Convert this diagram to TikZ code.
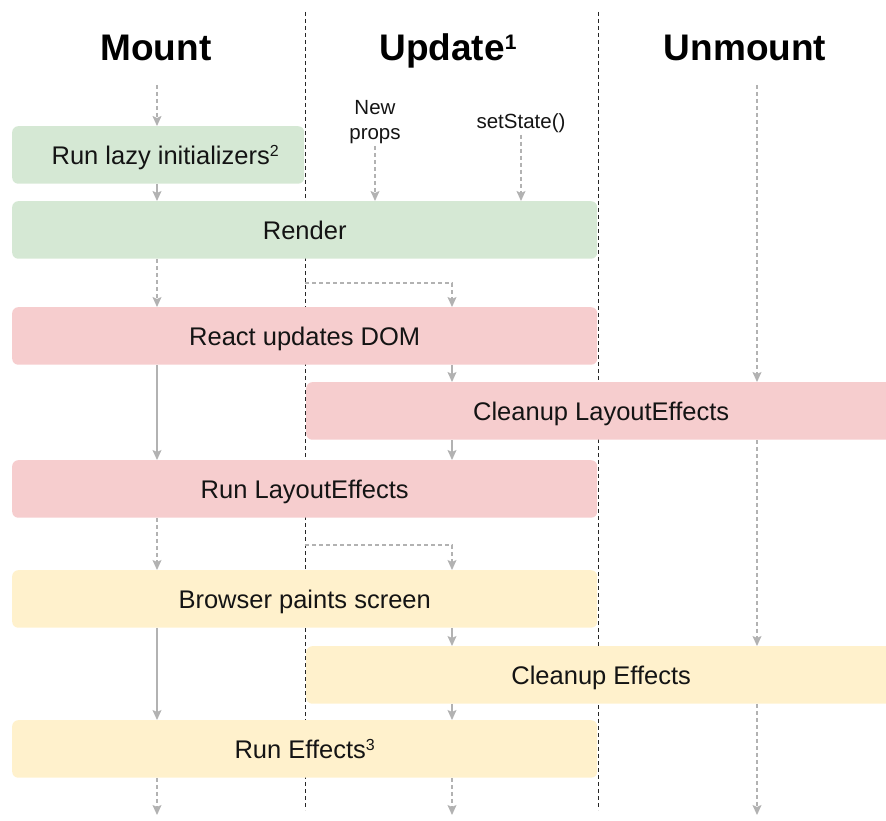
\documentclass[tikz,border=0pt]{standalone}
\usepackage{fontspec}
\setmainfont{Liberation Sans}
\usetikzlibrary{arrows.meta}
\definecolor{gfill}{RGB}{213,232,212}
\definecolor{pfill}{RGB}{246,205,206}
\definecolor{yfill}{RGB}{255,241,204}
\definecolor{arr}{RGB}{178,178,178}
\newcommand\bodysup[1]{\raisebox{8pt}{\fontsize{16pt}{16pt}\selectfont #1}}
\newcommand\headsup[1]{\raisebox{11.5pt}{\fontsize{21pt}{21pt}\selectfont #1}}
\begin{document}
\begin{tikzpicture}[x=1pt,y=-1pt,
  box/.style={anchor=north west, inner sep=0pt, minimum height=57.5pt,
    text height=18.5pt, text depth=0pt,
    rounded corners=6pt, font=\fontsize{25.5pt}{30pt}\selectfont, text=black!92},
  head/.style={anchor=base, inner sep=0pt, font=\fontsize{37pt}{42pt}\selectfont\bfseries, text=black},
  small/.style={inner sep=2pt, align=center, font=\fontsize{20.5pt}{25pt}\selectfont, text=black!92},
  flow/.style={draw=arr, line width=1.4pt, -{Stealth[length=10pt,width=9pt,inset=2pt]}},
  dflow/.style={flow, dash pattern=on 4pt off 3pt},
  divider/.style={draw=black!85, line width=1pt, dash pattern=on 4pt off 3pt}]
\useasboundingbox (0,0) rectangle (886,821);
\clip (0,0) rectangle (886,821);

% column guides
\coordinate (cM) at (157,0);
\coordinate (cU) at (452,0);
\coordinate (cX) at (757,0);

% dividers
\coordinate (d1t) at (305,12);
\coordinate (d1b) at (305,810);
\coordinate (d2t) at (598,12);
\coordinate (d2b) at (598,810);
\draw[divider] (d1t) -- (d1b);
\draw[divider] (d2t) -- (d2b);

% headings
\node[head] (hm) at (156,61) {Mount};
\node[head] (hu) at (448,61) {Update\headsup{1}};
\node[head] (hx) at (745,61) {Unmount};

% boxes
\node[box, fill=gfill, minimum width=292pt] (lazy) at (12,126) {\hspace{14pt}Run lazy initializers\bodysup{2}};
\node[box, fill=gfill, minimum width=585pt] (render) at (12,201) {Render};
\node[box, fill=pfill, minimum width=585pt] (dom) at (12,307) {React updates DOM};
\node[box, fill=pfill, minimum width=590pt] (cle) at (306,382) {Cleanup LayoutEffects};
\node[box, fill=pfill, minimum width=585pt] (rle) at (12,460) {Run LayoutEffects};
\node[box, fill=yfill, minimum width=585pt] (paint) at (12,570) {Browser paints screen};
\node[box, fill=yfill, minimum width=590pt] (ce) at (306,646) {Cleanup Effects};
\node[box, fill=yfill, minimum width=585pt] (re) at (12,720) {Run Effects\bodysup{3}};

% update triggers
\node[small] (props) at (375,122) {New\\props};
\node[small] (setstate) at (521,123) {setState()};

% free ends
\coordinate (mtop) at (157,85);
\coordinate (xtop) at (757,85);
\coordinate (mbot) at (157,815);
\coordinate (ubot) at (452,815);
\coordinate (xbot) at (757,815);
\coordinate (e1) at (305,283);
\coordinate (e2) at (305,545);

% Mount column
\draw[dflow] (mtop) -- (lazy.north -| cM);
\draw[flow] (lazy.south -| cM) -- (render.north -| cM);
\draw[dflow] (render.south -| cM) -- (dom.north -| cM);
\draw[flow] (dom.south -| cM) -- (rle.north -| cM);
\draw[dflow] (rle.south -| cM) -- (paint.north -| cM);
\draw[flow] (paint.south -| cM) -- (re.north -| cM);
\draw[dflow] (re.south -| cM) -- (mbot);

% Update column
\draw[dflow] (props.south) -- (render.north -| props.south);
\draw[dflow] (setstate.south) -- (render.north -| setstate.south);
\draw[dflow] (e1) -| (dom.north -| cU);
\draw[flow] (dom.south -| cU) -- (cle.north -| cU);
\draw[flow] (cle.south -| cU) -- (rle.north -| cU);
\draw[dflow] (e2) -| (paint.north -| cU);
\draw[flow] (paint.south -| cU) -- (ce.north -| cU);
\draw[flow] (ce.south -| cU) -- (re.north -| cU);
\draw[dflow] (re.south -| cU) -- (ubot);

% Unmount column
\draw[dflow] (xtop) -- (cle.north -| cX);
\draw[dflow] (cle.south -| cX) -- (ce.north -| cX);
\draw[dflow] (ce.south -| cX) -- (xbot);
\end{tikzpicture}
\end{document}
